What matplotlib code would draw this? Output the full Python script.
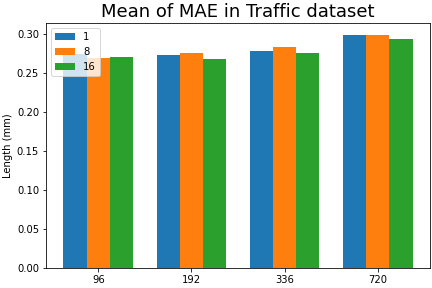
import matplotlib
matplotlib.use("Agg")
import matplotlib.pyplot as plt
import numpy as np

categories = ["96", "192", "336", "720"]
series_labels = ["1", "8", "16"]
values_1 = [0.2744, 0.2730, 0.2782, 0.2987]
values_8 = [0.2690, 0.2756, 0.2833, 0.2987]
values_16 = [0.2705, 0.2680, 0.2756, 0.2936]

fig, ax = plt.subplots(figsize=(6, 4), dpi=72)
x = np.arange(len(categories))
w = 0.25
for i, (vals, lab) in enumerate(zip([values_1, values_8, values_16], series_labels)):
    ax.bar(x + (i - 1) * w, vals, w, label=lab)
ax.set_xticks(x)
ax.set_xticklabels(categories)
ax.set_ylabel("Length (mm)")
ax.set_title("Mean of MAE in Traffic dataset", fontsize=18)
ax.legend(loc="upper left")
fig.subplots_adjust(left=46/432, right=430/432, top=1-23/288, bottom=1-268/288)
fig.savefig("out.png")
